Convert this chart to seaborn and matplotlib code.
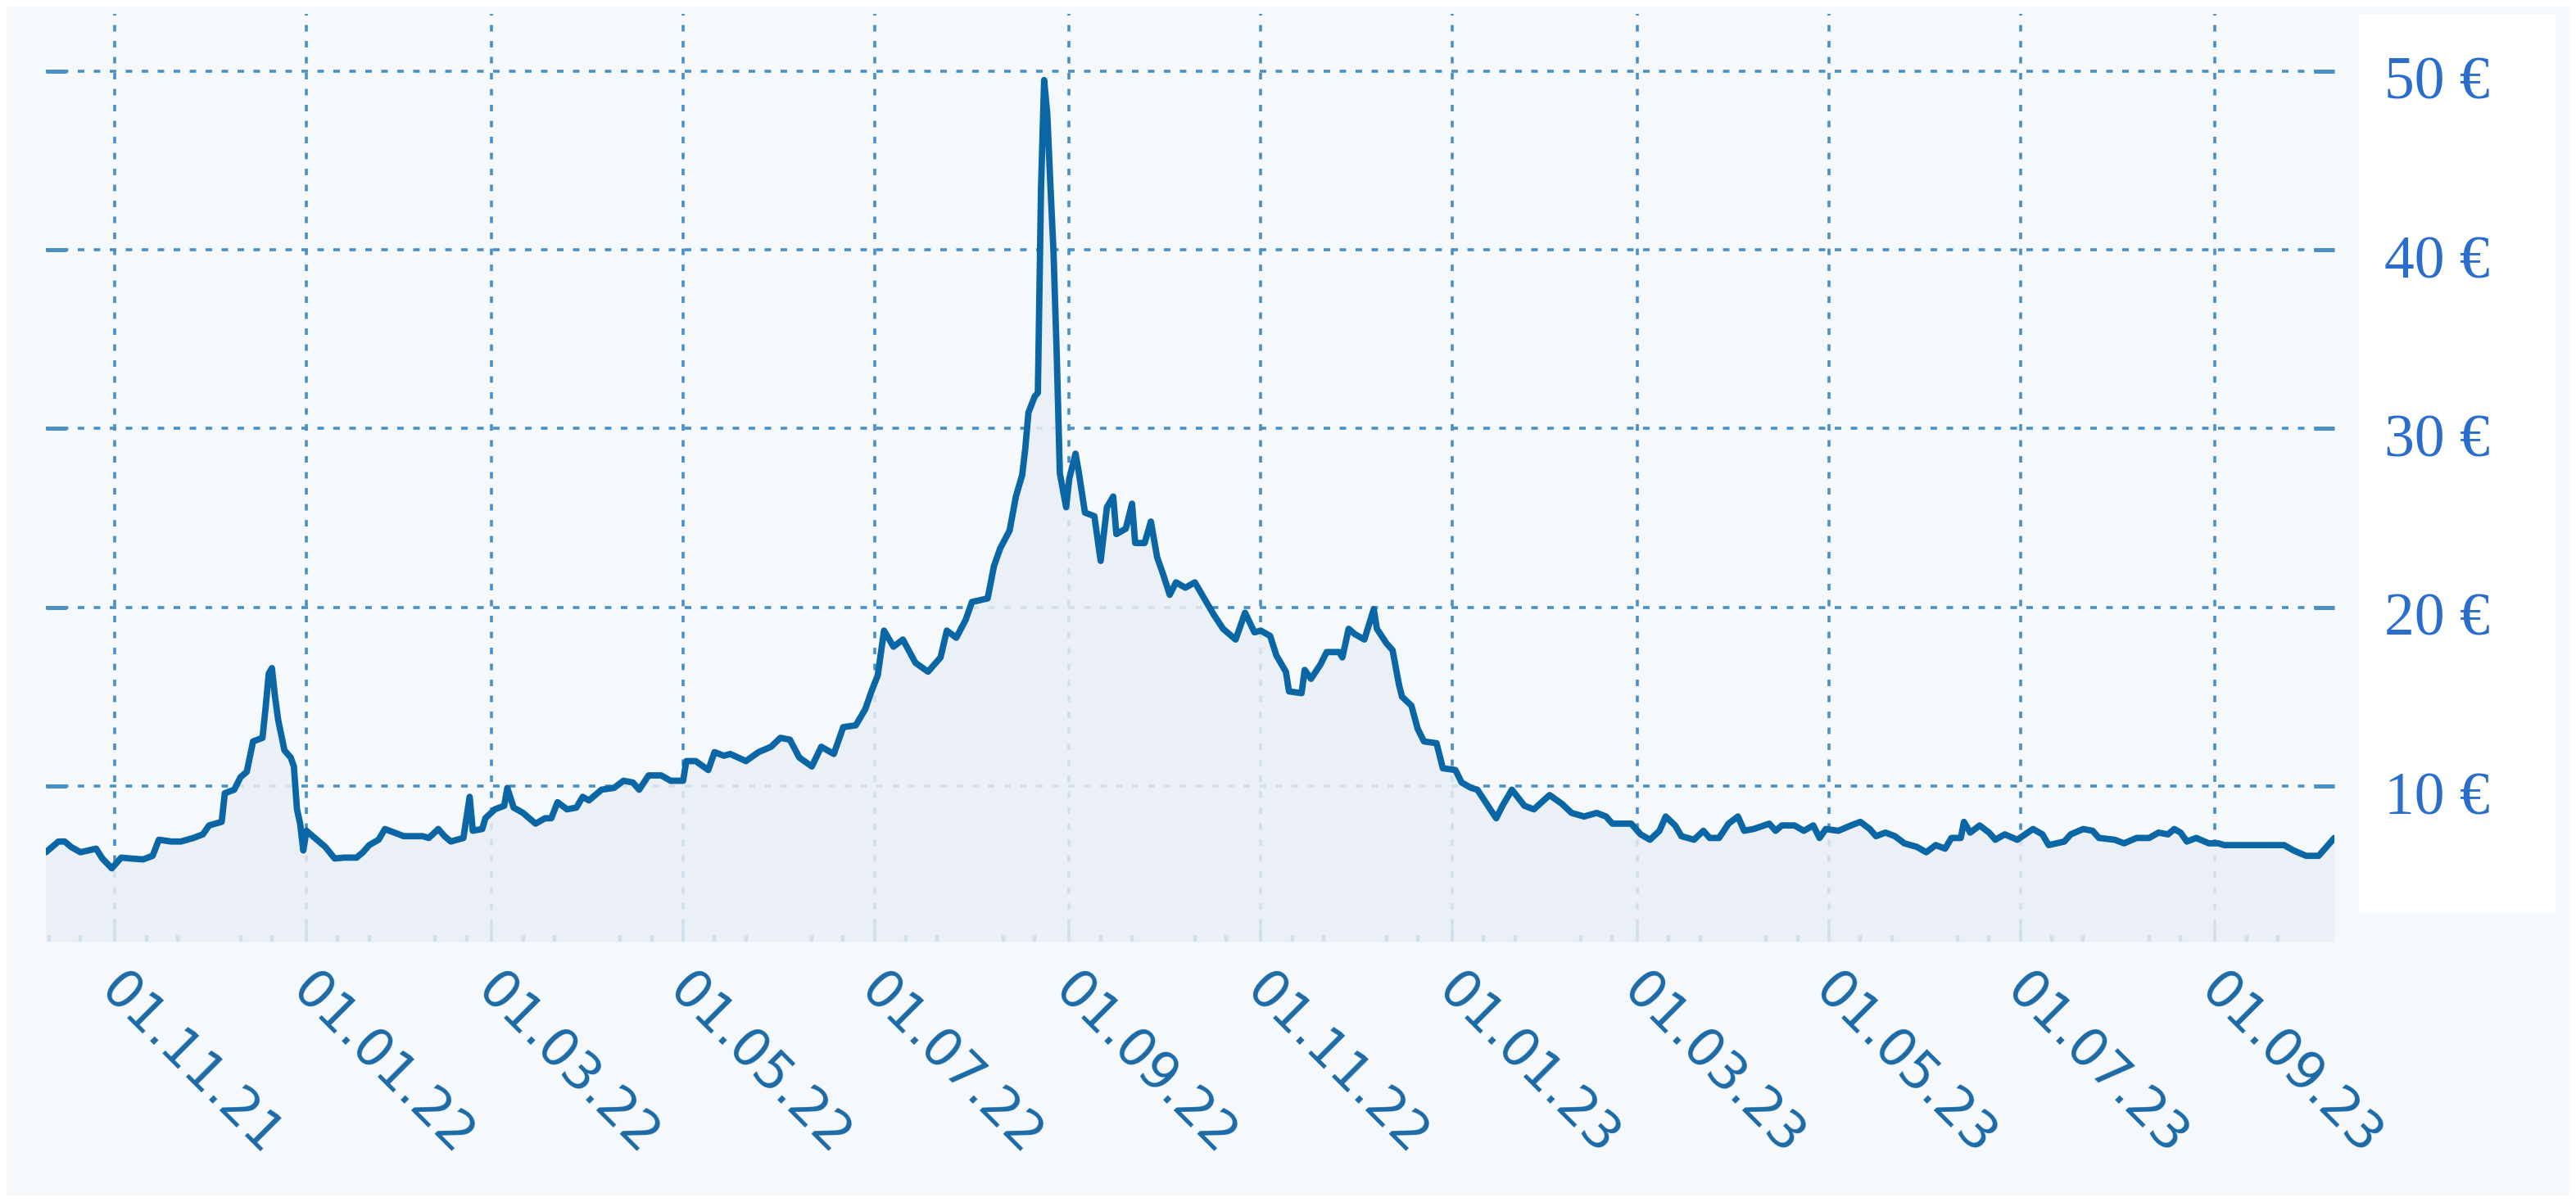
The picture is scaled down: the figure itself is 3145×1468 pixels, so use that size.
import matplotlib
matplotlib.use("Agg")
import matplotlib.pyplot as plt
import matplotlib.dates as mdates
import matplotlib.transforms as mtransforms
from matplotlib.patches import Rectangle
import seaborn as sns
import pandas as pd

# ---------------- data ----------------
dates_2021 = ["2021-10-10", "2021-10-14", "2021-10-16", "2021-10-18", "2021-10-21", "2021-10-26",
              "2021-10-28", "2021-10-31", "2021-11-03", "2021-11-06", "2021-11-10", "2021-11-13",
              "2021-11-15", "2021-11-19", "2021-11-22", "2021-11-26", "2021-11-29", "2021-12-01",
              "2021-12-05", "2021-12-06", "2021-12-09", "2021-12-11", "2021-12-13", "2021-12-15",
              "2021-12-18", "2021-12-19", "2021-12-20", "2021-12-21", "2021-12-22", "2021-12-23",
              "2021-12-25", "2021-12-27", "2021-12-28", "2021-12-29", "2021-12-30", "2021-12-31"]
price_2021 = [6.3, 6.9, 6.9, 6.6, 6.3, 6.5,
              5.95, 5.4, 6.0, 5.95, 5.9, 6.1,
              7.0, 6.9, 6.9, 7.1, 7.3, 7.8,
              8.0, 9.6, 9.8, 10.5, 10.8, 12.5,
              12.7, 14.4, 16.3, 16.6, 15.0, 13.7,
              12.0, 11.6, 11.1, 8.7, 7.9, 6.4]

dates_2022a = ["2022-01-01", "2022-01-03", "2022-01-05", "2022-01-07", "2022-01-10", "2022-01-13",
               "2022-01-17", "2022-01-19", "2022-01-21", "2022-01-24", "2022-01-26", "2022-01-29",
               "2022-02-01", "2022-02-05", "2022-02-07", "2022-02-09", "2022-02-12", "2022-02-14",
               "2022-02-16", "2022-02-20", "2022-02-22", "2022-02-23", "2022-02-26", "2022-02-27",
               "2022-03-02", "2022-03-05", "2022-03-06", "2022-03-08", "2022-03-11", "2022-03-15",
               "2022-03-18", "2022-03-20", "2022-03-22", "2022-03-25", "2022-03-28", "2022-03-30",
               "2022-04-01", "2022-04-05", "2022-04-09", "2022-04-12", "2022-04-15", "2022-04-17",
               "2022-04-20", "2022-04-24", "2022-04-27", "2022-05-01", "2022-05-02", "2022-05-05",
               "2022-05-09", "2022-05-11", "2022-05-14", "2022-05-16", "2022-05-21", "2022-05-25",
               "2022-05-29", "2022-06-01", "2022-06-04", "2022-06-07", "2022-06-11", "2022-06-14",
               "2022-06-18", "2022-06-21", "2022-06-25", "2022-06-28", "2022-06-30"]
price_2022a = [7.5, 7.2, 6.9, 6.6, 5.95, 6.0,
               6.0, 6.3, 6.7, 7.0, 7.6, 7.4,
               7.2, 7.2, 7.2, 7.1, 7.6, 7.2,
               6.9, 7.1, 9.4, 7.5, 7.6, 8.2,
               8.7, 8.9, 9.9, 8.8, 8.5, 7.9,
               8.2, 8.2, 9.1, 8.7, 8.8, 9.4,
               9.2, 9.8, 9.9, 10.3, 10.2, 9.8,
               10.6, 10.6, 10.3, 10.3, 11.4, 11.4,
               10.9, 11.9, 11.7, 11.8, 11.4, 11.9,
               12.2, 12.7, 12.6, 11.6, 11.1, 12.2,
               11.8, 13.3, 13.4, 14.3, 15.3]

dates_2022b = ["2022-07-02", "2022-07-04", "2022-07-07", "2022-07-10", "2022-07-14", "2022-07-18",
               "2022-07-22", "2022-07-24", "2022-07-27", "2022-07-30", "2022-08-01", "2022-08-06",
               "2022-08-08", "2022-08-10", "2022-08-13", "2022-08-15", "2022-08-17", "2022-08-18",
               "2022-08-19", "2022-08-21", "2022-08-22", "2022-08-23", "2022-08-24", "2022-08-25",
               "2022-08-26", "2022-08-27", "2022-08-28", "2022-08-29", "2022-08-31", "2022-09-01",
               "2022-09-03", "2022-09-04", "2022-09-06", "2022-09-09", "2022-09-11", "2022-09-13",
               "2022-09-15", "2022-09-16", "2022-09-19", "2022-09-21", "2022-09-22", "2022-09-25",
               "2022-09-27", "2022-09-29", "2022-10-01", "2022-10-03", "2022-10-05", "2022-10-08",
               "2022-10-11", "2022-10-14", "2022-10-17", "2022-10-20", "2022-10-24", "2022-10-27",
               "2022-10-30", "2022-11-01", "2022-11-04", "2022-11-06", "2022-11-09", "2022-11-10",
               "2022-11-14", "2022-11-15", "2022-11-17", "2022-11-20", "2022-11-22", "2022-11-26",
               "2022-11-27", "2022-11-29", "2022-12-01", "2022-12-04", "2022-12-07", "2022-12-08",
               "2022-12-11", "2022-12-13", "2022-12-15", "2022-12-16", "2022-12-19", "2022-12-21",
               "2022-12-23", "2022-12-27", "2022-12-29"]
price_2022b = [16.2, 18.7, 17.8, 18.2, 16.9, 16.4,
               17.2, 18.7, 18.3, 19.3, 20.3, 20.5,
               22.3, 23.3, 24.3, 26.2, 27.4, 28.9,
               30.9, 31.8, 32.0, 43.4, 49.5, 47.6,
               43.6, 39.8, 34.2, 27.5, 25.6, 27.2,
               28.6, 27.6, 25.3, 25.1, 22.6, 25.6,
               26.2, 24.1, 24.4, 25.8, 23.6, 23.6,
               24.8, 22.8, 21.8, 20.7, 21.4, 21.1,
               21.4, 20.5, 19.6, 18.8, 18.2, 19.7,
               18.6, 18.7, 18.4, 17.3, 16.4, 15.3,
               15.2, 16.5, 16.0, 16.8, 17.5, 17.5,
               17.2, 18.8, 18.5, 18.2, 19.9, 18.8,
               18.0, 17.6, 15.7, 15.0, 14.5, 13.2,
               12.5, 12.4, 11.0]

dates_2023 = ["2023-01-02", "2023-01-04", "2023-01-07", "2023-01-09", "2023-01-12", "2023-01-15",
              "2023-01-17", "2023-01-20", "2023-01-24", "2023-01-27", "2023-02-01", "2023-02-05",
              "2023-02-08", "2023-02-12", "2023-02-16", "2023-02-19", "2023-02-21", "2023-02-27",
              "2023-03-02", "2023-03-05", "2023-03-08", "2023-03-10", "2023-03-13", "2023-03-15",
              "2023-03-19", "2023-03-22", "2023-03-24", "2023-03-27", "2023-03-30", "2023-04-02",
              "2023-04-04", "2023-04-07", "2023-04-12", "2023-04-14", "2023-04-16", "2023-04-20",
              "2023-04-23", "2023-04-26", "2023-04-28", "2023-04-30", "2023-05-04", "2023-05-08",
              "2023-05-11", "2023-05-14", "2023-05-16", "2023-05-19", "2023-05-22", "2023-05-25",
              "2023-05-29", "2023-06-01", "2023-06-04", "2023-06-07", "2023-06-09", "2023-06-12",
              "2023-06-13", "2023-06-15", "2023-06-18", "2023-06-21", "2023-06-23", "2023-06-26",
              "2023-06-30", "2023-07-05", "2023-07-08", "2023-07-10", "2023-07-15", "2023-07-17",
              "2023-07-21", "2023-07-24", "2023-07-26", "2023-07-31", "2023-08-03", "2023-08-07",
              "2023-08-11", "2023-08-14", "2023-08-17", "2023-08-19", "2023-08-21", "2023-08-23",
              "2023-08-26", "2023-08-30", "2023-09-02", "2023-09-04", "2023-09-12", "2023-09-19",
              "2023-09-23", "2023-09-26", "2023-09-30", "2023-10-04", "2023-10-07", "2023-10-09"]
price_2023 = [10.9, 10.2, 9.9, 9.8, 9.0, 8.2,
              8.9, 9.8, 8.9, 8.7, 9.5, 9.0,
              8.5, 8.3, 8.5, 8.3, 7.9, 7.9,
              7.3, 7.0, 7.5, 8.3, 7.8, 7.2,
              7.0, 7.5, 7.1, 7.1, 7.9, 8.3,
              7.5, 7.6, 7.9, 7.5, 7.8, 7.8,
              7.5, 7.8, 7.1, 7.6, 7.5, 7.8,
              8.0, 7.6, 7.2, 7.4, 7.2, 6.8,
              6.6, 6.3, 6.7, 6.5, 7.1, 7.1,
              8.0, 7.4, 7.8, 7.4, 7.0, 7.3,
              7.0, 7.6, 7.3, 6.7, 6.9, 7.3,
              7.6, 7.5, 7.1, 7.0, 6.8, 7.1,
              7.1, 7.4, 7.3, 7.6, 7.4, 6.9,
              7.1, 6.8, 6.8, 6.7, 6.7, 6.7,
              6.7, 6.4, 6.1, 6.1, 6.7, 7.1]

y_ticks = [10, 20, 30, 40, 50]
y_tick_labels = ["10 €", "20 €", "30 €", "40 €", "50 €"]

# ---------------- styling ----------------
BG = "#f6f9fc"
LINE = "#0b66a5"
GRID = "#4a8fc6"
XLAB = "#1c6aa6"
YLAB = "#2b6dcc"
FILL = "#eaeff5"

W, H = 3145, 1468

sns.set_theme(style="white")
plt.rcParams["font.family"] = ["DejaVu Sans"]

df = pd.DataFrame({
    "date": pd.to_datetime(dates_2021 + dates_2022a + dates_2022b + dates_2023),
    "price": price_2021 + price_2022a + price_2022b + price_2023,
})

fig = plt.figure(figsize=(W / 100, H / 100), dpi=100)
fig.patch.set_facecolor("white")
fig.patches.append(Rectangle((8 / W, 8 / H), 1 - 16 / W, 1 - 16 / H, transform=fig.transFigure,
                             facecolor=BG, edgecolor="none", zorder=-20))
# white box behind the price labels
fig.patches.append(Rectangle((2880 / W, 1 - 1115 / H), 240 / W, (1115 - 17) / H, transform=fig.transFigure,
                             facecolor="white", edgecolor="none", zorder=-19))

left, right, top, bottom = 56, 2850, 17, 1150
ax = fig.add_axes([left / W, 1 - bottom / H, (right - left) / W, (bottom - top) / H])
ax.set_facecolor("none")

y_min, y_max = 1.3, 53.2
ax.fill_between(df["date"], df["price"], y_min, color=FILL, alpha=0.85, linewidth=0, zorder=1)
sns.lineplot(data=df, x="date", y="price", ax=ax, color=LINE, linewidth=5.6, zorder=3)

ax.set_xlim(pd.Timestamp("2021-10-10"), pd.Timestamp("2023-10-09"))
ax.set_ylim(y_min, y_max)

for s in ax.spines.values():
    s.set_visible(False)

ax.xaxis.set_major_locator(mdates.MonthLocator(bymonth=[1, 3, 5, 7, 9, 11], bymonthday=1))
ax.xaxis.set_minor_locator(mdates.DayLocator(bymonthday=[11, 21]))
ax.xaxis.set_major_formatter(mdates.DateFormatter("%d.%m.%y"))

ax.set_yticks(y_ticks)
ax.set_yticklabels(y_tick_labels)

ax.set_axisbelow(True)
ax.grid(True, which="major", axis="both", color=GRID, linestyle=(0, (2.2, 3.2)), linewidth=2.6, zorder=0)

ax.tick_params(axis="x", which="major", direction="in", length=14, width=2.6, color=GRID,
               bottom=True, top=False, labelsize=46, labelcolor=XLAB, pad=20)
ax.tick_params(axis="x", which="minor", direction="in", length=6, width=3.2, color=GRID,
               bottom=True, top=False)
ax.tick_params(axis="y", which="major", direction="in", length=18, width=3.6, color=GRID,
               left=True, right=True, labelleft=False, labelright=True, labelcolor=YLAB,
               labelsize=53, pad=44)

xshift = mtransforms.ScaledTranslation(10 / 72, 0, fig.dpi_scale_trans)
for lbl in ax.get_xticklabels():
    lbl.set_rotation(-45)
    lbl.set_ha("left")
    lbl.set_va("top")
    lbl.set_rotation_mode("anchor")
    lbl.set_transform(lbl.get_transform() + xshift)
yshift = mtransforms.ScaledTranslation(0, -6 / 72, fig.dpi_scale_trans)
for lbl in ax.get_yticklabels():
    lbl.set_fontfamily(["Liberation Serif", "DejaVu Serif"])
    lbl.set_transform(lbl.get_transform() + yshift)

ax.set_xlabel("")
ax.set_ylabel("")

fig.savefig("out.png", dpi=100, facecolor=fig.get_facecolor())
